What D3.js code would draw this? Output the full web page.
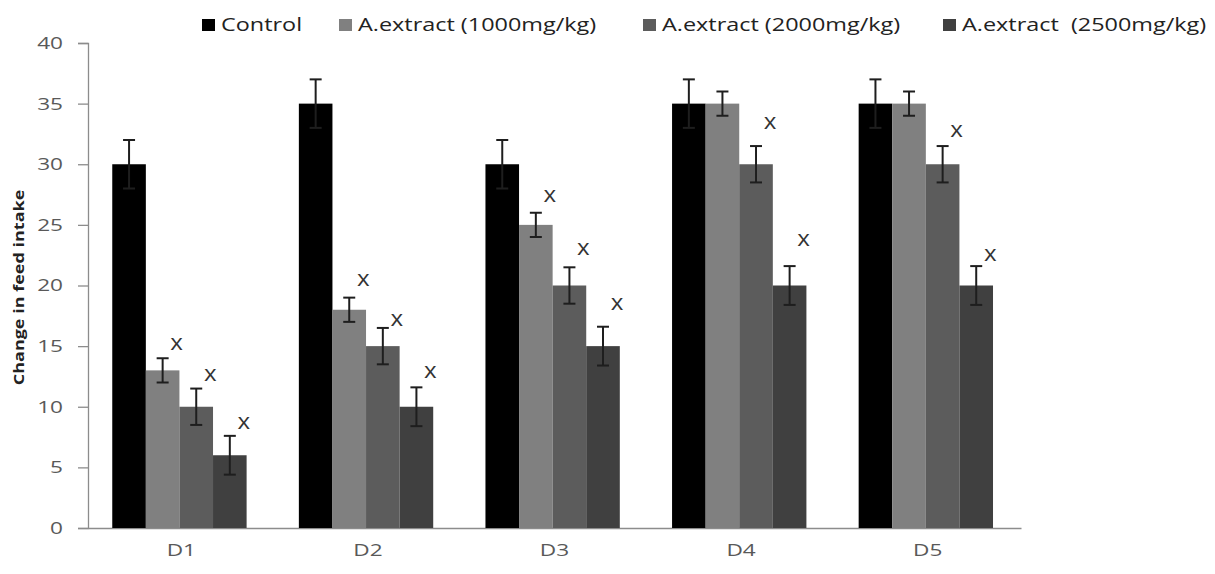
<!DOCTYPE html>
<html>
<head>
<meta charset="utf-8">
<script src="https://cdn.jsdelivr.net/npm/d3@7/dist/d3.min.js"></script>
<style>
  body { margin: 0; background: #fff; }
  text { font-family: "Open Sans", "DejaVu Sans", sans-serif; }
</style>
</head>
<body>
<svg id="chart" width="1215" height="574"></svg>
<script>
// data
const days = ['D1', 'D2', 'D3', 'D4', 'D5']
const seriesNames = ['Control', 'A.extract (1000mg/kg)', 'A.extract (2000mg/kg)', 'A.extract  (2500mg/kg)']
const control = [30, 35, 30, 35, 35]
const extract1000 = [13, 18, 25, 35, 35]
const extract2000 = [10, 15, 20, 30, 30]
const extract2500 = [6, 10, 15, 20, 20]
const errControl = [2, 2, 2, 2, 2]
const err1000 = [1, 1, 1, 1, 1]
const err2000 = [1.5, 1.5, 1.5, 1.5, 1.5]
const err2500 = [1.6, 1.6, 1.6, 1.6, 1.6]
// level of the "x" significance marks (null = no mark)
const markControl = [null, null, null, null, null]
const mark1000 = [15.2, 20.5, 27.4, null, null]
const mark2000 = [12.7, 17.2, 23.1, 33.5, 32.8]
const mark2500 = [8.7, 12.9, 18.5, 23.8, 22.6]
const yTicks = [0, 5, 10, 15, 20, 25, 30, 35, 40]

const colors = ['#000000', '#808080', '#5c5c5c', '#404040']
const values = [control, extract1000, extract2000, extract2500]
const errors = [errControl, err1000, err2000, err2500]
const marks = [markControl, mark1000, mark2000, mark2500]

// the original image is stretched sideways, so widen the text to match
const stretchK = 1.33
function stretch (sel, k) {
  sel.each(function () {
    let w = this.getComputedTextLength()
    d3.select(this)
      .attr('textLength', w * k)
      .attr('lengthAdjust', 'spacingAndGlyphs')
  })
}

const svg = d3.select('#chart')
const mLeft = 88
const mRight = 1021
const mTop = 43
const mBottom = 528

const x0 = d3.scaleBand().domain(days).range([mLeft, mRight])
const bw = x0.bandwidth()
const x1 = d3.scaleBand().domain(d3.range(seriesNames.length))
  .range([bw * 0.13, bw * 0.85])
const y = d3.scaleLinear().domain([0, 40]).range([mBottom, mTop])

// y axis
const yAxis = svg.append('g')
  .attr('transform', `translate(${mLeft},0)`)
  .call(d3.axisLeft(y).tickValues(yTicks).tickSize(10).tickPadding(15))
yAxis.select('.domain').attr('stroke', '#8c8c8c').attr('stroke-width', 1.3)
yAxis.selectAll('.tick line').attr('stroke', '#8c8c8c').attr('stroke-width', 1.3)
yAxis.selectAll('.tick text')
  .attr('fill', '#595959')
  .style('font-size', '17px')
  .call(stretch, stretchK)

// x axis
const xAxis = svg.append('g')
  .attr('transform', `translate(0,${mBottom})`)
  .call(d3.axisBottom(x0).tickSize(0).tickPadding(16))
xAxis.select('.domain').attr('stroke', '#8c8c8c').attr('stroke-width', 1.3)
xAxis.selectAll('.tick text')
  .attr('fill', '#595959')
  .style('font-size', '17px')
  .call(stretch, stretchK)

// y title
svg.append('text')
  .attr('transform', `translate(24,${(mTop + mBottom) / 2 + 2}) rotate(-90)`)
  .attr('text-anchor', 'middle')
  .style('font-size', '15px')
  .style('font-weight', 'bold')
  .attr('fill', '#222')
  .text('Change in feed intake')
  .call(stretch, 1.2)

// bars
const groups = svg.append('g').selectAll('g')
  .data(days)
  .join('g')
  .attr('transform', d => `translate(${x0(d)},0)`)

seriesNames.forEach((name, s) => {
  groups.append('rect')
    .attr('x', (d, i) => x1(s))
    .attr('y', (d, i) => y(values[s][i]))
    .attr('width', x1.bandwidth())
    .attr('height', (d, i) => y(0) - y(values[s][i]))
    .attr('fill', colors[s])
})

// error bars
const capW = 12
seriesNames.forEach((name, s) => {
  const cx = x1(s) + x1.bandwidth() / 2
  const eb = groups.append('g').attr('stroke', '#1e1e1e').attr('stroke-width', 2)
  eb.append('line')
    .attr('x1', cx).attr('x2', cx)
    .attr('y1', (d, i) => y(values[s][i] - errors[s][i]))
    .attr('y2', (d, i) => y(values[s][i] + errors[s][i]))
  eb.append('line')
    .attr('x1', cx - capW / 2).attr('x2', cx + capW / 2)
    .attr('y1', (d, i) => y(values[s][i] + errors[s][i]))
    .attr('y2', (d, i) => y(values[s][i] + errors[s][i]))
  eb.append('line')
    .attr('x1', cx - capW / 2).attr('x2', cx + capW / 2)
    .attr('y1', (d, i) => y(values[s][i] - errors[s][i]))
    .attr('y2', (d, i) => y(values[s][i] - errors[s][i]))
})

// significance marks
seriesNames.forEach((name, s) => {
  const cx = x1(s) + x1.bandwidth() / 2 + 14
  groups.filter((d, i) => marks[s][i] != null)
    .append('text')
    .attr('x', cx)
    .attr('y', d => y(marks[s][days.indexOf(d)]))
    .attr('dy', '0.32em')
    .attr('text-anchor', 'middle')
    .style('font-size', '21px')
    .attr('fill', '#333')
    .text('x')
    .call(stretch, 1.15)
})

// legend
const legendX = [202, 339, 643, 943]
const legend = svg.append('g')
  .selectAll('g')
  .data(seriesNames)
  .join('g')
  .attr('transform', (d, i) => `translate(${legendX[i]},25)`)
legend.append('rect')
  .attr('x', 0).attr('y', -6)
  .attr('width', 13).attr('height', 12)
  .attr('fill', (d, i) => colors[i])
legend.append('text')
  .attr('x', 19)
  .attr('dy', '0.36em')
  .style('font-size', '18px')
  .attr('fill', '#222')
  .style('white-space', 'pre')
  .text(d => d)
  .call(stretch, 1.3)
</script>
</body>
</html>
